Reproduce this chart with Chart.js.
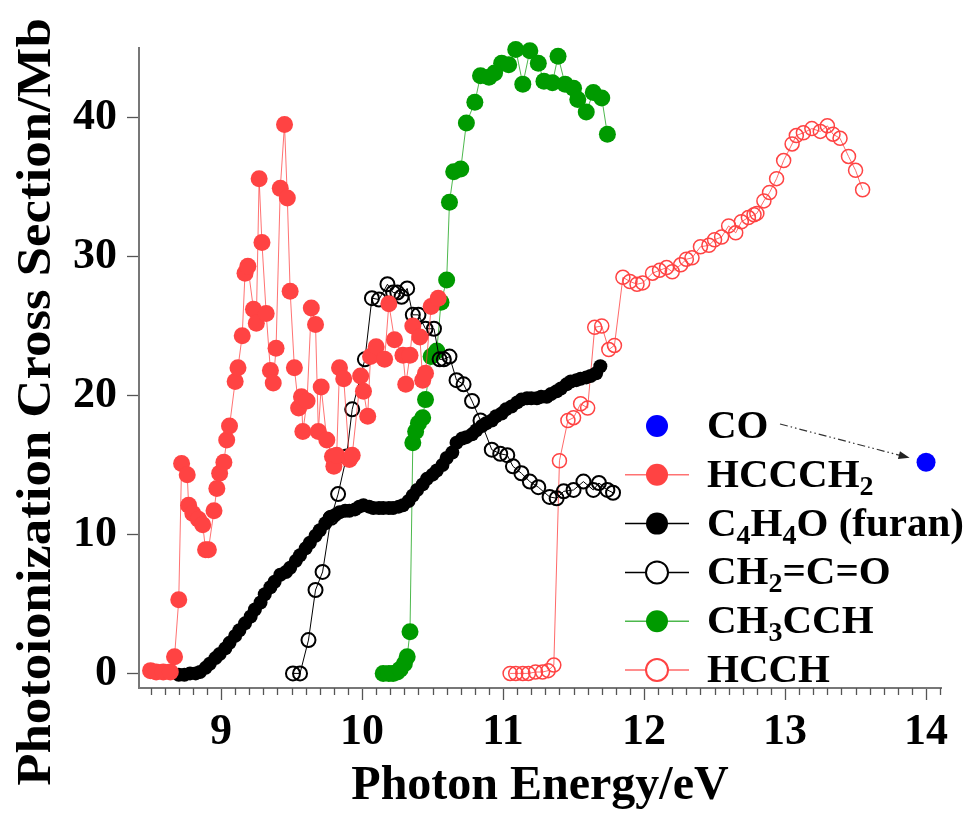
<!DOCTYPE html>
<html>
<head>
<meta charset="utf-8">
<script src="https://cdn.jsdelivr.net/npm/chart.js@4.4.1/dist/chart.umd.min.js"></script>
<style>
    html, body { margin: 0; padding: 0; background: #fff; }
</style>
</head>
<body>
<canvas id="xs-chart" width="979" height="813"></canvas>
<script>
/* ── photoionization cross sections ── */

// legend text, "_n" marks a subscript digit
const legendLabels = ['CO', 'HCCCH_2', 'C_4H_4O (furan)', 'CH_2=C=O', 'CH_3CCH', 'HCCH'];

const energyCO = [14.0];
const sigmaCO = [15.2];

const energyHCCCH2 = [8.50, 8.54, 8.59, 8.64, 8.67, 8.70, 8.72, 8.76, 8.77, 8.80, 8.84, 8.87, 8.89, 8.91, 8.95, 8.97,
    8.99, 9.02, 9.04, 9.06, 9.10, 9.12, 9.15, 9.17, 9.19, 9.23, 9.25, 9.27, 9.29, 9.32, 9.35, 9.37, 9.39, 9.42, 9.45,
    9.47, 9.49, 9.52, 9.55, 9.57, 9.58, 9.61, 9.64, 9.67, 9.69, 9.71, 9.75, 9.79, 9.80, 9.82, 9.84, 9.87, 9.91, 9.93,
    9.99, 10.01, 10.04, 10.06, 10.10, 10.16, 10.19, 10.23, 10.29, 10.31, 10.34, 10.36, 10.41, 10.43, 10.45, 10.49, 10.54];
const sigmaHCCCH2 = [0.2, 0.1, 0.1, 0.1, 1.2, 5.3, 15.1, 14.3, 12.1, 11.5, 11.1, 10.7, 8.9, 8.9, 11.7, 13.3,
    14.4, 15.2, 16.8, 17.8, 21.0, 22.0, 24.3, 28.8, 29.3, 26.2, 25.2, 35.6, 31.0, 25.9, 21.8, 20.9, 23.4, 34.9, 39.5,
    34.2, 27.5, 22.0, 19.1, 19.9, 17.4, 19.6, 26.3, 25.1, 17.4, 20.6, 16.8, 15.6, 14.9, 15.7, 22.0, 21.2, 15.4, 15.7,
    21.4, 20.3, 18.5, 22.8, 23.5, 22.6, 26.6, 24.0, 22.9, 20.8, 22.9, 25.0, 24.2, 21.1, 21.6, 26.4, 27.0];

const energyFuran = [8.70, 8.74, 8.78, 8.82, 8.85, 8.89, 8.92, 8.96, 8.99, 9.03, 9.06, 9.10, 9.13, 9.17, 9.21, 9.24,
    9.28, 9.31, 9.35, 9.38, 9.42, 9.46, 9.49, 9.53, 9.56, 9.60, 9.63, 9.67, 9.70, 9.74, 9.77, 9.81, 9.84, 9.88, 9.91,
    9.95, 9.98, 10.01, 10.05, 10.08, 10.12, 10.15, 10.19, 10.22, 10.26, 10.29, 10.33, 10.36, 10.39, 10.43, 10.46,
    10.50, 10.53, 10.57, 10.60, 10.64, 10.67, 10.71, 10.74, 10.78, 10.81, 10.85, 10.88, 10.92, 10.95, 10.99, 11.02,
    11.06, 11.10, 11.13, 11.17, 11.20, 11.24, 11.27, 11.31, 11.34, 11.38, 11.41, 11.45, 11.48, 11.52, 11.55, 11.59,
    11.62, 11.66, 11.69];
const sigmaFuran = [-0.1, -0.1, 0.0, 0.0, 0.1, 0.4, 0.7, 1.1, 1.4, 1.8, 2.2, 2.7, 3.1, 3.6, 4.1, 4.6,
    5.1, 5.7, 6.2, 6.6, 7.1, 7.3, 7.6, 8.1, 8.5, 9.0, 9.4, 9.9, 10.3, 10.8, 11.2, 11.4, 11.6, 11.7, 11.7,
    11.8, 12.0, 12.1, 12.0, 11.9, 11.9, 11.9, 11.9, 11.9, 12.0, 12.1, 12.4, 12.8, 13.2, 13.6, 14.0,
    14.3, 14.6, 15.0, 15.5, 15.9, 16.6, 16.9, 17.0, 17.2, 17.5, 17.8, 18.0, 18.2, 18.5, 18.7, 19.0,
    19.2, 19.5, 19.7, 19.8, 19.8, 19.8, 19.9, 19.9, 20.1, 20.3, 20.5, 20.8, 21.0, 21.1, 21.2, 21.3,
    21.4, 21.6, 22.1];

const energyKetene = [9.51, 9.56, 9.62, 9.67, 9.72, 9.78, 9.83, 9.89, 9.93, 10.02, 10.07, 10.12, 10.18, 10.22, 10.25,
    10.28, 10.32, 10.36, 10.40, 10.45, 10.51, 10.55, 10.58, 10.62, 10.67, 10.72, 10.78, 10.84, 10.92, 10.98, 11.03,
    11.07, 11.13, 11.19, 11.25, 11.33, 11.38, 11.43, 11.50, 11.57, 11.64, 11.68, 11.74, 11.78];
const sigmaKetene = [0.0, 0.0, 2.4, 6.0, 7.3, 11.2, 12.9, 15.6, 19.0, 22.6, 27.0, 26.9, 28.0, 27.4, 27.4,
    27.1, 27.7, 25.8, 25.8, 24.8, 24.8, 22.6, 22.6, 22.8, 21.1, 20.8, 19.6, 18.2, 16.1, 15.8, 15.7,
    14.9, 14.4, 13.8, 13.4, 12.7, 12.6, 13.1, 13.2, 13.8, 13.2, 13.7, 13.2, 13.0];

const energyPropyne = [10.15, 10.19, 10.22, 10.25, 10.27, 10.30, 10.32, 10.34, 10.36, 10.38, 10.40, 10.43, 10.45,
    10.49, 10.53, 10.56, 10.60, 10.62, 10.65, 10.70, 10.74, 10.80, 10.84, 10.90, 10.94, 10.99, 11.04, 11.09, 11.14,
    11.19, 11.25, 11.29, 11.35, 11.39, 11.44, 11.50, 11.53, 11.59, 11.64, 11.70, 11.74];
const sigmaPropyne = [0.0, 0.0, 0.0, 0.1, 0.3, 0.7, 1.2, 3.0, 16.6, 17.4, 18.0, 18.4, 19.7,
    22.8, 23.2, 26.7, 28.3, 33.9, 36.1, 36.3, 39.6, 41.1, 43.0, 42.9, 43.2, 43.9, 43.8, 44.9, 42.4,
    44.8, 43.9, 42.6, 42.5, 44.4, 42.4, 42.1, 41.3, 40.4, 41.8, 41.4, 38.8];

const energyHCCH = [11.05, 11.09, 11.14, 11.18, 11.23, 11.28, 11.32, 11.36, 11.40, 11.46, 11.50, 11.55, 11.60, 11.65,
    11.70, 11.75, 11.79, 11.85, 11.90, 11.95, 11.99, 12.06, 12.11, 12.16, 12.20, 12.26, 12.30, 12.34, 12.40, 12.46,
    12.50, 12.55, 12.60, 12.65, 12.69, 12.74, 12.78, 12.80, 12.85, 12.89, 12.94, 12.99, 13.05, 13.08, 13.13, 13.19,
    13.25, 13.30, 13.34, 13.39, 13.45, 13.50, 13.55];
const sigmaHCCH = [0.0, 0.0, 0.0, 0.0, 0.1, 0.1, 0.2, 0.6, 15.3, 18.2, 18.4, 19.4, 19.1, 24.9,
    25.0, 23.3, 23.6, 28.5, 28.2, 28.0, 28.1, 28.8, 29.0, 29.2, 28.9, 29.4, 29.8, 29.9, 30.7, 30.8,
    31.2, 31.4, 32.2, 31.7, 32.5, 32.8, 33.0, 33.1, 34.0, 34.6, 35.6, 36.9, 38.1, 38.7, 38.9, 39.2,
    39.0, 39.4, 38.8, 38.5, 37.2, 36.2, 34.8];

const xTicks = [9, 10, 11, 12, 13, 14];
const yTicks = [0, 10, 20, 30, 40];

const RED = '#ff4343';
const GREEN = '#009a00';
const AXIS = '#777777';
const FONT = "'Liberation Serif', 'Times New Roman', serif";

const pts = (xs, ys) => xs.map((x, i) => ({ x, y: ys[i] }));

const XsChart = {
    // 0.1 eV minor ticks on the energy axis
    minorTicks: {
        id: 'minorTicks',
        afterDraw(chart) {
            const sx = chart.scales.x, ctx = chart.ctx;
            ctx.save();
            ctx.strokeStyle = '#555';
            ctx.lineWidth = 1.3;
            for (let i = Math.ceil(sx.min * 10); i <= Math.floor(sx.max * 10 + 1e-6); i++) {
                if (i % 10 === 0) continue;
                const px = Math.round(sx.getPixelForValue(i / 10)) + 0.5;
                ctx.beginPath();
                ctx.moveTo(px, sx.top);
                ctx.lineTo(px, sx.top + 7);
                ctx.stroke();
            }
            ctx.restore();
        },
    },

    yTitle: {
        id: 'yTitle',
        afterDraw(chart) {
            const ctx = chart.ctx;
            ctx.save();
            ctx.translate(38, 402);
            ctx.rotate(-Math.PI / 2);
            ctx.scale(1.1, 1);
            ctx.font = 'bold 48px ' + FONT;
            ctx.fillStyle = '#000';
            ctx.textAlign = 'center';
            ctx.textBaseline = 'middle';
            ctx.fillText('Photoionization Cross Section/Mb', 0, 0);
            ctx.restore();
        },
    },

    _rich(ctx, text, x, y) {
        text.split(/_(\d)/).forEach((part, k) => {
            if (!part) return;
            const sub = k % 2 === 1;
            ctx.font = 'bold ' + (sub ? 28 : 41) + 'px ' + FONT;
            ctx.fillText(part, x, y + (sub ? 8 : 0));
            x += ctx.measureText(part).width;
        });
    },

    legendBox: {
        id: 'legendBox',
        afterDatasetsDraw(chart) {
            const ctx = chart.ctx;
            ctx.save();
            legendLabels.forEach((label, i) => {
                const ds = chart.data.datasets[i];
                const y = 426 + i * 48.8;
                if (ds.showLine) {
                    ctx.strokeStyle = ds.borderColor;
                    ctx.lineWidth = 1.5;
                    ctx.beginPath();
                    ctx.moveTo(625, y);
                    ctx.lineTo(689, y);
                    ctx.stroke();
                }
                const open = ds.pointBackgroundColor === 'rgba(0,0,0,0)';
                ctx.beginPath();
                ctx.arc(657, y, 11, 0, Math.PI * 2);
                ctx.fillStyle = open ? '#fff' : ds.pointBackgroundColor;
                ctx.fill();
                if (open) {
                    ctx.strokeStyle = ds.pointBorderColor;
                    ctx.lineWidth = 2;
                    ctx.stroke();
                }
                ctx.fillStyle = '#000';
                ctx.textBaseline = 'alphabetic';
                XsChart._rich(ctx, label, 707, y + 12);
            });

            // dash-dot pointer from the CO label to its point
            const px = chart.scales.x.getPixelForValue(energyCO[0]);
            const py = chart.scales.y.getPixelForValue(sigmaCO[0]);
            const x0 = 780, y0 = 424;
            const len = Math.hypot(px - x0, py - y0);
            const ux = (px - x0) / len, uy = (py - y0) / len;
            const tx = px - ux * 17, ty = py - uy * 17;
            ctx.strokeStyle = '#333';
            ctx.lineWidth = 1.2;
            ctx.setLineDash([8, 3, 1.5, 3, 1.5, 3]);
            ctx.beginPath();
            ctx.moveTo(x0, y0);
            ctx.lineTo(tx - ux * 6, ty - uy * 6);
            ctx.stroke();
            ctx.setLineDash([]);
            ctx.fillStyle = '#222';
            ctx.beginPath();
            ctx.moveTo(tx, ty);
            ctx.lineTo(tx - ux * 11 - uy * 4, ty - uy * 11 + ux * 4);
            ctx.lineTo(tx - ux * 11 + uy * 4, ty - uy * 11 - ux * 4);
            ctx.closePath();
            ctx.fill();
            ctx.restore();
        },
    },

    render() {
        const canvas = document.getElementById('xs-chart');
        const tickFont = { family: FONT, size: 44, weight: 'bold' };
        const series = (data, color, fill, radius, lineColor, extra) => Object.assign({
            data,
            showLine: true,
            clip: false,
            borderColor: lineColor,
            borderWidth: 1,
            tension: 0,
            pointRadius: radius,
            pointBackgroundColor: fill,
            pointBorderColor: color,
            pointBorderWidth: fill === 'rgba(0,0,0,0)' ? 2 : 0,
        }, extra || {});

        canvas._chart = new Chart(canvas.getContext('2d'), {
            type: 'scatter',
            data: {
                datasets: [
                    series(pts(energyCO, sigmaCO), '#0000ff', '#0000ff', 9.5, '#0000ff', { showLine: false }),
                    series(pts(energyHCCCH2, sigmaHCCCH2), RED, RED, 8.5, 'rgba(255,67,67,0.75)'),
                    series(pts(energyFuran, sigmaFuran), '#000', '#000', 7, '#000'),
                    series(pts(energyKetene, sigmaKetene), '#000', 'rgba(0,0,0,0)', 7, '#000'),
                    series(pts(energyPropyne, sigmaPropyne), GREEN, GREEN, 8.5, 'rgba(0,154,0,0.7)'),
                    series(pts(energyHCCH, sigmaHCCH), RED, 'rgba(0,0,0,0)', 7, 'rgba(255,67,67,0.8)', { pointBorderWidth: 1.5 }),
                ],
            },
            options: {
                responsive: false,
                animation: false,
                devicePixelRatio: 1,
                layout: { padding: { top: 48, right: 38, left: 0, bottom: 0 } },
                plugins: { legend: { display: false }, tooltip: { enabled: false } },
                scales: {
                    x: {
                        type: 'linear',
                        min: 8.418,
                        max: 14.106,
                        afterFit: s => { s.height = 125; },
                        afterBuildTicks: s => { s.ticks = xTicks.map(v => ({ value: v })); },
                        border: { color: AXIS, width: 2 },
                        grid: { drawOnChartArea: false, tickLength: 12, tickColor: '#555', tickWidth: 1.3 },
                        ticks: { font: tickFont, color: '#000', padding: 6, maxRotation: 0 },
                        title: {
                            display: true,
                            text: 'Photon Energy/eV',
                            color: '#000',
                            font: { family: FONT, size: 48, weight: 'bold', lineHeight: 1 },
                            padding: { top: 0, bottom: 2 },
                        },
                    },
                    y: {
                        type: 'linear',
                        min: -1.05,
                        max: 45,
                        afterFit: s => { s.width = 139; },
                        afterBuildTicks: s => { s.ticks = yTicks.map(v => ({ value: v })); },
                        border: { color: AXIS, width: 2 },
                        grid: { drawOnChartArea: false, tickLength: 12, tickColor: '#555', tickWidth: 1.3 },
                        ticks: { font: tickFont, color: '#000', padding: 10 },
                    },
                },
            },
            plugins: [this.minorTicks, this.yTitle, this.legendBox],
        });
    },
};

XsChart.render();
</script>
</body>
</html>
